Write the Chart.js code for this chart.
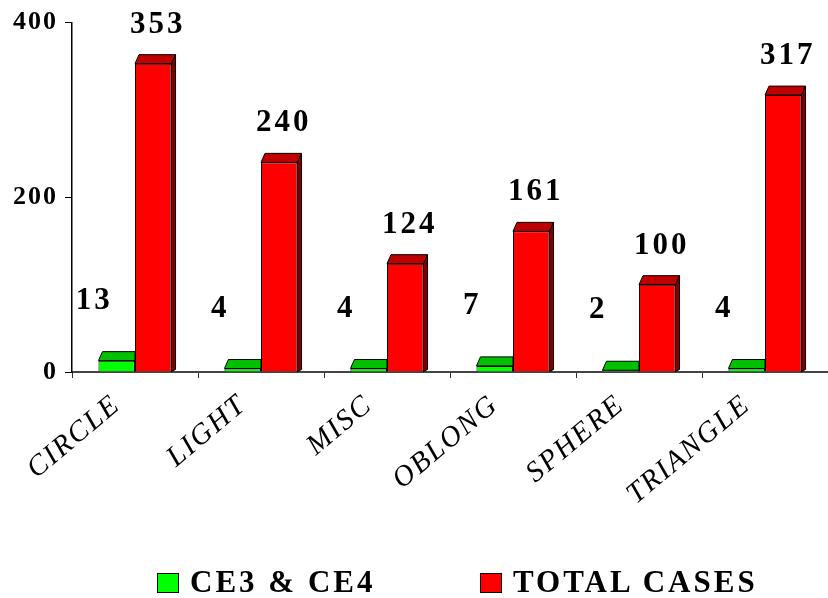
<!DOCTYPE html>
<html>
<head>
<meta charset="utf-8">
<script src="https://cdn.jsdelivr.net/npm/chart.js@4"></script>
<style>
  html, body { margin: 0; padding: 0; background: #fff; }
  #wrap { position: relative; width: 828px; height: 598px; overflow: hidden; }
  #legend { position: absolute; left: 0; top: 566px; width: 828px; height: 32px;
            font: bold 31px "Liberation Serif", "Times New Roman", serif; letter-spacing: 3px; color: #000; line-height: 32px; }
  .item { position: absolute; top: 0; height: 32px; white-space: nowrap; }
  .box { position: absolute; top: 7px; width: 20px; height: 18px; border: 1px solid #000; }
  .txt { position: absolute; top: 0; }
</style>
</head>
<body>
<div id="wrap">
  <canvas id="c" width="828" height="598"></canvas>
  <div id="legend">
    <div class="item" style="left:157px"><span class="box" style="left:0;background:#00ff00"></span><span class="txt" style="left:33px">CE3 &amp; CE4</span></div>
    <div class="item" style="left:480px"><span class="box" style="left:0;background:#ff0000"></span><span class="txt" style="left:33px">TOTAL CASES</span></div>
  </div>
</div>
<script>
const categories = ["CIRCLE", "LIGHT", "MISC", "OBLONG", "SPHERE", "TRIANGLE"];
const ce3ce4 = [13, 4, 4, 7, 2, 4];
const totalCases = [353, 240, 124, 161, 100, 317];
const yTicks = [0, 200, 400];

const SERIF = '"Liberation Serif", "Times New Roman", serif';

function spacing(chart) { chart.ctx.letterSpacing = '2px'; }

const bar3d = {
  id: 'bar3d',
  beforeLayout: spacing,
  beforeDraw: spacing,
  afterDatasetDraw(chart, args) {
    const ds = chart.data.datasets[args.index];
    const ctx = chart.ctx;
    const dx = 4, dy = 9;
    ctx.save();
    ctx.lineWidth = 1;
    ctx.strokeStyle = '#000';
    args.meta.data.forEach(el => {
      const p = el.getProps(['x', 'y', 'base', 'width'], true);
      const l = p.x - p.width / 2, r = p.x + p.width / 2;
      const rb = ds.hideSide ? r : r + dx;
      ctx.beginPath();
      ctx.moveTo(l, p.y); ctx.lineTo(l + dx, p.y - dy); ctx.lineTo(rb, p.y - dy); ctx.lineTo(r, p.y); ctx.closePath();
      ctx.fillStyle = ds.topColor; ctx.fill(); ctx.stroke();
      if (!ds.hideSide) {
        ctx.beginPath();
        ctx.moveTo(r, p.y); ctx.lineTo(r + dx, p.y - dy); ctx.lineTo(r + dx, p.base - 2); ctx.lineTo(r, p.base); ctx.closePath();
        ctx.fillStyle = ds.sideColor; ctx.fill(); ctx.stroke();
      }
    });
    ctx.restore();
  },
  afterDatasetsDraw(chart) {
    const ctx = chart.ctx;
    ctx.save();
    ctx.letterSpacing = '3px';
    ctx.font = 'bold 31px ' + SERIF;
    ctx.fillStyle = '#000';
    ctx.textAlign = 'center';
    ctx.textBaseline = 'alphabetic';
    chart.data.datasets.forEach((ds, i) => {
      chart.getDatasetMeta(i).data.forEach((el, j) => {
        const v = ds.data[j];
        ctx.fillText(String(v), el.x + ds.labelDx + 1.5, el.y - ds.labelGap);
      });
    });
    ctx.restore();
  }
};

new Chart(document.getElementById('c'), {
  type: 'bar',
  data: {
    labels: categories,
    datasets: [
      { label: 'CE3 & CE4', data: ce3ce4, backgroundColor: '#00ff00', topColor: '#00c000', sideColor: '#008000',
        borderColor: '#000', borderWidth: 1, hideSide: true, labelDx: -24, labelGap: 52,
        categoryPercentage: 0.58, barPercentage: 1.0 },
      { label: 'TOTAL CASES', data: totalCases, backgroundColor: '#ff0000', topColor: '#c00000', sideColor: '#800000',
        borderColor: '#000', borderWidth: 1, hideSide: false, labelDx: 3, labelGap: 31,
        categoryPercentage: 0.58, barPercentage: 1.0 }
    ]
  },
  options: {
    responsive: false,
    animation: false,
    devicePixelRatio: 1,
    layout: { padding: { top: 22, left: 0, right: -6, bottom: 0 } },
    plugins: { legend: { display: false }, tooltip: { enabled: false } },
    scales: {
      x: {
        offset: true,
        grid: { display: true, drawOnChartArea: false, drawTicks: true, tickLength: 6, color: '#333', offset: true },
        border: { display: true, color: '#444', width: 2 },
        ticks: { color: '#000', font: { family: SERIF, size: 29, style: 'italic' }, minRotation: 40, maxRotation: 40, padding: 10, labelOffset: -18 },
        afterFit(s) { s.height = 226; }
      },
      y: {
        min: 0, max: 400,
        afterBuildTicks(s) { s.ticks = yTicks.map(v => ({ value: v })); },
        grid: { display: true, drawOnChartArea: false, drawTicks: true, tickLength: 7, color: '#000' },
        border: { display: true, color: '#000', width: 1.5 },
        ticks: { color: '#000', font: { family: SERIF, size: 26, weight: 'bold' }, padding: 7 },
        afterFit(s) { s.width = 72; }
      }
    }
  },
  plugins: [bar3d]
});
</script>
</body>
</html>
